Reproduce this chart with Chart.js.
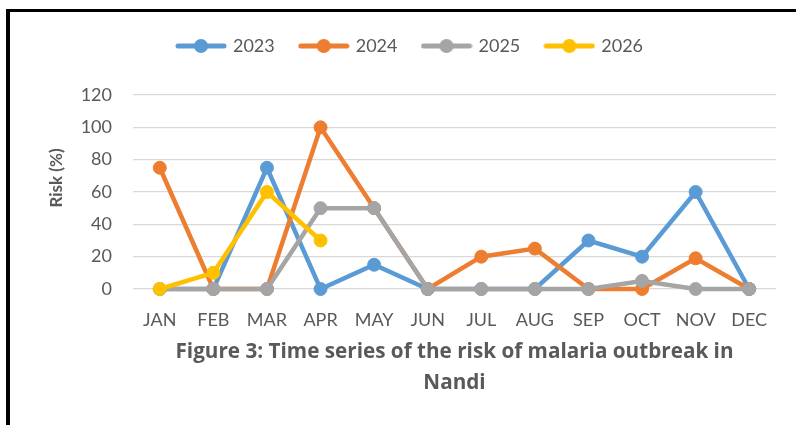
<!DOCTYPE html>
<html>
<head>
<meta charset="utf-8">
<script src="https://cdn.jsdelivr.net/npm/chart.js@4/dist/chart.umd.min.js"></script>
<style>
  html, body { margin: 0; padding: 0; background: #ffffff; }
  #wrap { position: relative; width: 796px; height: 425px; overflow: hidden; }
  #frame { position: absolute; left: 6px; top: 9px; width: 800px; height: 430px;
           border-top: 3px solid #000; border-left: 4px solid #000; box-sizing: border-box; }
  #c { position: absolute; left: 0; top: 0; }
</style>
</head>
<body>
<div id="wrap">
  <div id="frame"></div>
  <canvas id="c" width="796" height="425"></canvas>
</div>
<script>
const months = ['JAN','FEB','MAR','APR','MAY','JUN','JUL','AUG','SEP','OCT','NOV','DEC'];
const seriesNames = ['2023','2024','2025','2026'];
const risk2023 = [0, 0, 75, 0, 15, 0, 0, 0, 30, 20, 60, 0];
const risk2024 = [75, 0, 0, 100, 50, 0, 20, 25, 0, 0, 19, 0];
const risk2025 = [0, 0, 0, 50, 50, 0, 0, 0, 0, 5, 0, 0];
const risk2026 = [0, 10, 60, 30];
const yTicks = [0, 20, 40, 60, 80, 100, 120];
const colors = ['#5B9BD5', '#ED7D31', '#A5A5A5', '#FFC000'];
const yTitle = 'Risk (%)';
const xTitle = ['Figure 3: Time series of the risk of malaria outbreak in', 'Nandi'];

const FONT = 'Lato';
const TITLE_FONT = 'Open Sans';
const TEXT = '#595959';

function legendImage(color) {
  const cv = document.createElement('canvas');
  cv.width = 52; cv.height = 16;
  const g = cv.getContext('2d');
  g.strokeStyle = color; g.lineWidth = 5; g.lineCap = 'round';
  g.beginPath(); g.moveTo(3, 8); g.lineTo(49, 8); g.stroke();
  g.fillStyle = color;
  g.beginPath(); g.arc(26, 8, 7, 0, Math.PI * 2); g.fill();
  return cv;
}
const legendImgs = colors.map(legendImage);

const allData = [risk2023, risk2024, risk2025, risk2026];
const datasets = allData.map((d, i) => ({
  label: seriesNames[i],
  data: d,
  borderColor: colors[i],
  backgroundColor: colors[i],
  borderWidth: 4.5,
  pointRadius: 6.5,
  pointBorderWidth: 1,
  pointBackgroundColor: colors[i],
  pointBorderColor: colors[i],
  tension: 0,
  clip: false,
  order: 4 - i
}));

const LEGEND_H = 84;
const layoutPlugin = {
  id: 'fixLegend',
  beforeLayout(chart) {
    const lg = chart.legend;
    if (lg && !lg._patched) {
      const f = lg.fit.bind(lg);
      lg.fit = function () { f(); this.height = LEGEND_H; };
      lg._patched = true;
    }
  }
};
const yTitlePlugin = {
  id: 'yTitle',
  afterDraw(chart) {
    const ctx = chart.ctx;
    ctx.save();
    ctx.translate(57, 178);
    ctx.rotate(-Math.PI / 2);
    ctx.font = 'bold 17px ' + FONT;
    ctx.fillStyle = TEXT;
    ctx.textAlign = 'center';
    ctx.textBaseline = 'middle';
    ctx.fillText(yTitle, 0, 0);
    ctx.restore();
  }
};

new Chart(document.getElementById('c'), {
  type: 'line',
  data: { labels: months, datasets },
  options: {
    responsive: false,
    animation: false,
    layout: { padding: { left: 45, right: 20, top: 11, bottom: 0 } },
    plugins: {
      legend: {
        position: 'top',
        labels: {
          usePointStyle: true,
          pointStyleWidth: 46,
          padding: 26,
          color: TEXT,
          font: { family: FONT, size: 18 },
          sort: (a, b) => a.datasetIndex - b.datasetIndex,
          generateLabels(chart) {
            const items = Chart.defaults.plugins.legend.labels.generateLabels(chart);
            items.forEach(it => { it.pointStyle = legendImgs[it.datasetIndex]; });
            return items;
          }
        }
      },
      tooltip: { enabled: false }
    },
    scales: {
      x: {
        offset: true,
        grid: { display: false, drawTicks: false },
        border: { display: false },
        ticks: { color: TEXT, font: { family: FONT, size: 18 }, padding: 20, maxRotation: 0, autoSkip: false },
        title: {
          display: true,
          text: xTitle,
          color: TEXT,
          font: { family: TITLE_FONT, size: 20.7, weight: 'bold', lineHeight: '31px' },
          padding: { top: 0, bottom: 26 }
        },
        afterFit(scale) { scale.height = 136; }
      },
      y: {
        min: 0, max: 120,
        afterBuildTicks(scale) { scale.ticks = yTicks.map(v => ({ value: v })); },
        grid: { color: '#D9D9D9', lineWidth: 1.2, drawTicks: false },
        border: { display: false },
        ticks: { color: TEXT, font: { family: FONT, size: 18 }, padding: 21 },
        afterFit(scale) { scale.width = 88; }
      }
    }
  },
  plugins: [layoutPlugin, yTitlePlugin]
});
</script>
</body>
</html>
